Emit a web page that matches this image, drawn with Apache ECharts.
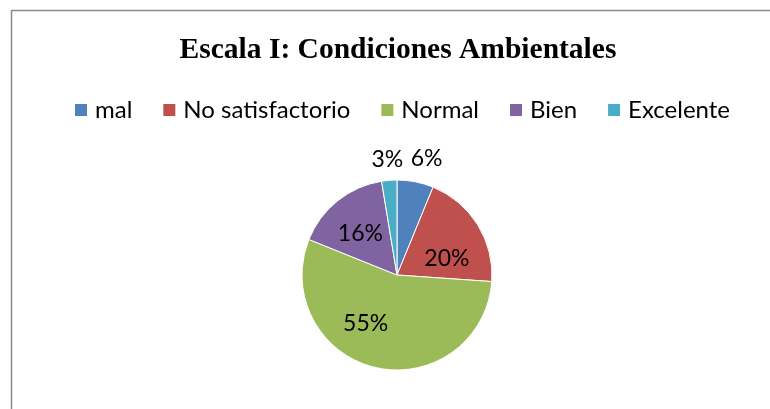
<!DOCTYPE html>
<html>
<head>
<meta charset="utf-8">
<script src="https://cdn.jsdelivr.net/npm/echarts@6/dist/echarts.min.js"></script>
<style>
  html, body { margin: 0; padding: 0; background: #fff; }
  #chart { width: 770px; height: 409px; }
</style>
</head>
<body>
<div id="chart"></div>
<script>
// data (share of answers, %)
const categories = ["mal", "No satisfactorio", "Normal", "Bien", "Excelente"];
const values = [6.2, 19.9, 55.0, 16.3, 2.6];
const colors = ["#4f81bd", "#c0504d", "#9bbb59", "#8064a2", "#4bacc6"];
const outsideLabel = [true, false, false, false, true];
// nudges so the labels sit where Excel put them
const labelShift = [[-12, -11], [7, 10], [-20, -1], [-5, -2], [20, -9]];

let chartDom = document.getElementById("chart");
let myChart = echarts.init(chartDom);
let option;

option = {
  animation: false,
  graphic: [
    {
      type: "rect",
      shape: { x: 11.5, y: 10.5, width: 800, height: 500 },
      style: { fill: "none", stroke: "#8a8a8a", lineWidth: 1.5 },
    },
  ],
  title: {
    text: "Escala I: Condiciones Ambientales",
    left: 393,
    textAlign: "center",
    top: 30,
    textStyle: {
      fontFamily: "Liberation Serif",
      fontWeight: "bold",
      fontSize: 29.5,
      color: "#000",
    },
  },
  legend: {
    top: 93,
    left: 68,
    icon: "rect",
    itemWidth: 14,
    itemHeight: 14,
    itemGap: 29,
    textStyle: { fontFamily: "Lato", fontSize: 24, color: "#000", padding: [0, 0, 0, 2] },
    data: categories,
  },
  series: [
    {
      type: "pie",
      radius: 95,
      center: [397, 275],
      startAngle: 90,
      clockwise: true,
      data: categories.map((name, i) => ({
        name: name,
        value: values[i],
        itemStyle: { color: colors[i] },
        label: outsideLabel[i]
          ? { position: "outside" }
          : { position: "inside" },
        labelLine: { show: false, length: 12, length2: 0 },
      })),
      label: {
        formatter: "{d}%",
        fontFamily: "Lato",
        fontSize: 23,
        color: "#000",
      },
      labelLayout: (params) => ({
        dx: labelShift[params.dataIndex][0],
        dy: labelShift[params.dataIndex][1],
      }),
      percentPrecision: 0,
      itemStyle: { borderColor: "#fff", borderWidth: 1 },
    },
  ],
};

option && myChart.setOption(option);
</script>
</body>
</html>
